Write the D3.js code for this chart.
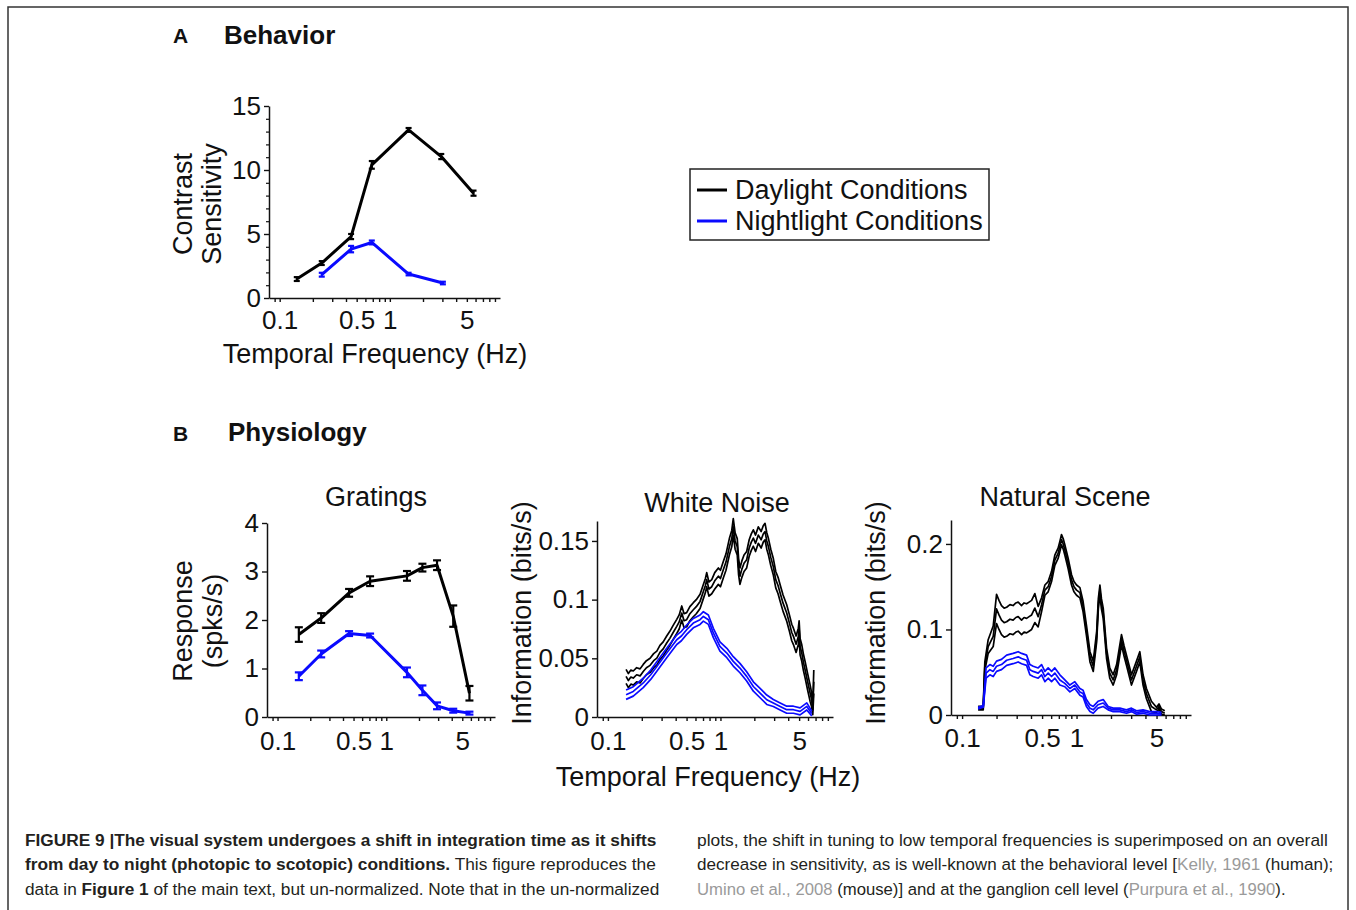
<!DOCTYPE html>
<html>
<head>
<meta charset="utf-8">
<script src="https://cdn.jsdelivr.net/npm/d3@7"></script>
<style>
  body { margin: 0; background: #fff; }
  text { font-family: "Liberation Sans", Arial, sans-serif; white-space: pre; }
</style>
</head>
<body>
<svg id="fig" width="1356" height="910"></svg>
<script>
// ---- shared frequency axis ----
const freqDomain = [0.08, 10];
const freqTickValues = [0.1, 0.5, 1, 5];
const freqTickLabels = ["0.1", "0.5", "1", "5"];
const freqMinorTicks = [0.09, 0.2, 0.3, 0.4, 0.6, 0.7, 0.8, 0.9, 2, 3, 4, 6, 7, 8, 9];

// ---- A: behavior (contrast sensitivity) ----
const behaviorDayFreq = [0.143, 0.241, 0.445, 0.686, 1.48, 2.93, 5.75];
const behaviorDay = [1.48, 2.73, 4.8, 10.4, 13.13, 11.05, 8.19];
const behaviorDayErr = [0.15, 0.15, 0.2, 0.3, 0.15, 0.2, 0.2];
const behaviorNightFreq = [0.241, 0.445, 0.686, 1.48, 3.03];
const behaviorNight = [1.82, 3.82, 4.34, 1.87, 1.17];
const behaviorNightErr = [0.15, 0.25, 0.15, 0.1, 0.1];

// ---- B: gratings (response) ----
const gratingFreq = [0.157, 0.252, 0.455, 0.71, 1.55, 2.15, 2.93, 4.13, 5.82];
const gratingDay = [1.70, 2.04, 2.56, 2.80, 2.91, 3.08, 3.13, 2.08, 0.49];
const gratingDayErr = [0.15, 0.1, 0.08, 0.1, 0.1, 0.08, 0.1, 0.22, 0.15];
const gratingNight = [0.84, 1.30, 1.72, 1.68, 0.92, 0.55, 0.23, 0.13, 0.08];
const gratingNightErr = [0.08, 0.07, 0.05, 0.04, 0.1, 0.1, 0.07, 0.04, 0.03];

// ---- B: white noise (information) ----
const wnDayFreq = [0.145,0.152,0.16,0.168,0.18,0.193,0.206,0.22,0.237,0.255,
  0.272,0.29,0.31,0.333,0.355,0.38,0.409,0.43,0.453,0.475,
  0.501,0.535,0.574,0.61,0.659,0.7,0.735,0.755,0.79,0.837,
  0.89,0.958,1.0,1.06,1.12,1.2,1.26,1.3,1.35,1.41,
  1.45,1.49,1.55,1.62,1.71,1.8,1.88,1.96,2.05,2.17,
  2.3,2.4,2.49,2.58,2.67,2.8,2.95,3.1,3.25,3.39,
  3.6,3.88,4.1,4.3,4.45,4.7,4.92,5.0,5.1,5.28,
  5.45,5.65,5.95,6.26,6.45,6.61,6.75];
const wnDay = [0.0346,0.031,0.034,0.0332,0.036,0.035,0.0388,0.042,0.044,0.048,
  0.0502,0.055,0.058,0.063,0.067,0.072,0.0772,0.081,0.0886,0.082,
  0.0829,0.088,0.0914,0.094,0.0985,0.106,0.112,0.117,0.109,0.111,
  0.116,0.12,0.118,0.1255,0.132,0.145,0.152,0.162,0.15,0.145,
  0.128,0.12,0.126,0.131,0.134,0.144,0.149,0.1525,0.148,0.155,
  0.151,0.156,0.158,0.15,0.145,0.136,0.128,0.117,0.112,0.1056,
  0.097,0.0886,0.08,0.072,0.0687,0.062,0.0687,0.075,0.06,0.0545,
  0.047,0.0403,0.03,0.0204,0.015,0.006,0.03];
const wnDaySem = [0.006,0.006,0.006,0.006,0.006,0.006,0.006,0.006,0.006,0.006,
  0.006,0.006,0.006,0.006,0.006,0.006,0.006,0.006,0.006,0.006,
  0.006,0.006,0.006,0.006,0.006,0.006,0.006,0.006,0.006,0.006,
  0.007,0.007,0.007,0.007,0.007,0.007,0.007,0.007,0.007,0.007,
  0.007,0.007,0.007,0.007,0.007,0.007,0.007,0.007,0.007,0.007,
  0.007,0.007,0.007,0.007,0.007,0.007,0.007,0.007,0.007,0.007,
  0.007,0.007,0.007,0.007,0.007,0.007,0.007,0.007,0.007,0.007,
  0.007,0.007,0.007,0.007,0.006,0.004,0.01];
const wnNightFreq = [0.145,0.168,0.206,0.24,0.272,0.333,0.409,0.45,0.501,0.574,
  0.659,0.705,0.781,0.865,0.99,1.14,1.3,1.49,1.71,1.96,
  2.25,2.58,2.95,3.39,3.88,4.45,5.1,5.85,6.48];
const wnNight = [0.019,0.0218,0.029,0.036,0.043,0.0545,0.0658,0.069,0.0744,0.08,
  0.0829,0.0857,0.0829,0.0716,0.0601,0.0545,0.0474,0.0417,0.0346,0.026,
  0.0204,0.0147,0.0119,0.009,0.0062,0.0062,0.0048,0.009,0.003];
const wnNightSem = [0.004,0.004,0.004,0.004,0.004,0.004,0.004,0.004,0.004,0.004,
  0.004,0.004,0.004,0.004,0.004,0.004,0.004,0.004,0.004,0.004,
  0.004,0.004,0.003,0.003,0.003,0.003,0.003,0.003,0.002];

// ---- B: natural scene (information) ----
const nsDayFreq = [0.138,0.153,0.158,0.169,0.187,0.2,0.21,0.221,0.233,0.245,
  0.262,0.279,0.295,0.309,0.331,0.348,0.366,0.385,0.405,0.432,
  0.462,0.495,0.529,0.565,0.605,0.646,0.69,0.715,0.739,0.765,
  0.79,0.845,0.904,0.95,1.0,1.07,1.14,1.22,1.31,1.40,
  1.50,1.55,1.6,1.65,1.71,1.83,1.95,2.09,2.24,2.35,
  2.47,2.6,2.73,3.02,3.34,3.57,3.81,4.08,4.51,4.99,
  5.25,5.52,5.9];
const nsDay = [0.008,0.008,0.057,0.08,0.092,0.124,0.117,0.111,0.108,0.109,
  0.112,0.111,0.114,0.115,0.111,0.114,0.113,0.115,0.117,0.125,
  0.115,0.129,0.146,0.150,0.162,0.181,0.189,0.197,0.205,0.2,
  0.193,0.177,0.158,0.15,0.146,0.143,0.127,0.099,0.068,0.057,
  0.092,0.13,0.146,0.13,0.119,0.072,0.049,0.041,0.053,0.07,
  0.088,0.075,0.064,0.041,0.057,0.068,0.041,0.025,0.01,0.006,
  0.01,0.004,0.002];
const nsDaySem = [0.002,0.002,0.005,0.008,0.012,0.017,0.017,0.017,0.017,0.017,
  0.017,0.017,0.017,0.017,0.017,0.017,0.017,0.017,0.017,0.017,
  0.012,0.008,0.006,0.006,0.006,0.006,0.006,0.006,0.006,0.006,
  0.006,0.006,0.006,0.006,0.006,0.006,0.006,0.006,0.006,0.006,
  0.006,0.006,0.006,0.006,0.006,0.006,0.006,0.006,0.006,0.006,
  0.006,0.006,0.006,0.006,0.006,0.006,0.006,0.006,0.006,0.003,
  0.003,0.003,0.003];
const nsNightFreq = [0.138,0.153,0.162,0.175,0.187,0.2,0.221,0.245,0.279,0.309,
  0.331,0.366,0.391,0.418,0.462,0.495,0.529,0.565,0.605,0.646,
  0.715,0.79,0.874,0.966,1.07,1.14,1.22,1.31,1.40,1.54,
  1.71,1.89,2.09,2.39,2.73,3.02,3.34,3.81,4.37,4.99,5.52];
const nsNight = [0.008,0.01,0.049,0.053,0.051,0.057,0.059,0.064,0.066,0.068,
  0.066,0.064,0.053,0.051,0.049,0.053,0.045,0.049,0.045,0.049,
  0.041,0.037,0.031,0.035,0.027,0.025,0.014,0.008,0.006,0.012,
  0.014,0.008,0.006,0.006,0.004,0.006,0.003,0.004,0.002,0.002,0.001];
const nsNightSem = [0.001,0.001,0.006,0.006,0.006,0.006,0.006,0.006,0.006,0.006,
  0.006,0.006,0.006,0.006,0.006,0.006,0.006,0.006,0.006,0.006,
  0.006,0.004,0.004,0.004,0.004,0.004,0.004,0.004,0.004,0.004,
  0.004,0.002,0.002,0.002,0.002,0.002,0.002,0.002,0.002,0.002,0.002];

// ---- legend and caption text ----
const legendLabels = ["Daylight Conditions", "Nightlight Conditions"];
const dayColor = "#000000";
const nightColor = "#0a0aff";
const captionLeft = [
  [["FIGURE 9 |The visual system undergoes a shift in integration time as it shifts", "b"]],
  [["from day to night (photopic to scotopic) conditions.", "b"], [" This figure reproduces the", "n"]],
  [["data in ", "n"], ["Figure 1", "b"], [" of the main text, but un-normalized. Note that in the un-normalized", "n"]]
];
const captionRight = [
  [["plots, the shift in tuning to low temporal frequencies is superimposed on an overall", "n"]],
  [["decrease in sensitivity, as is well-known at the behavioral level [", "n"], ["Kelly, 1961", "g"], [" (human);", "n"]],
  [["Umino et al., 2008", "g"], [" (mouse)] and at the ganglion cell level (", "n"], ["Purpura et al., 1990", "g"], [").", "n"]]
];

const svg = d3.select("#fig");
const FONT = "'Liberation Sans', Arial, sans-serif";

// page frame
svg.append("rect")
   .attr("x", 8).attr("y", 7)
   .attr("width", 1340).attr("height", 940)
   .attr("fill", "none")
   .attr("stroke", "#333")
   .attr("stroke-width", 1.5);

function panel(cfg) {
  const x = d3.scaleLog().domain(freqDomain).range([cfg.left, cfg.right]);
  const y = d3.scaleLinear().domain(cfg.yDomain).range([cfg.bottom, cfg.top]);
  const g = svg.append("g");

  const gx = g.append("g")
              .attr("transform", "translate(0," + cfg.bottom + ")")
              .call(d3.axisBottom(x)
                      .tickValues(freqMinorTicks.concat(freqTickValues))
                      .tickFormat(d => {
                        const i = freqTickValues.indexOf(d);
                        return i < 0 ? "" : freqTickLabels[i];
                      })
                      .tickSize(4)
                      .tickSizeOuter(0)
                      .tickPadding(cfg.xPad));

  const gy = g.append("g")
              .attr("transform", "translate(" + cfg.left + ",0)")
              .call(d3.axisLeft(y)
                      .tickValues(cfg.yTicks)
                      .tickFormat((d, i) => cfg.yLabels[i])
                      .tickSize(5)
                      .tickSizeOuter(0)
                      .tickPadding(3));

  if (cfg.yMinor) {
    const gm = g.append("g")
                .attr("transform", "translate(" + cfg.left + ",0)")
                .call(d3.axisLeft(y).tickValues(cfg.yMinor).tickFormat("").tickSize(3));
    gm.select(".domain").remove();
    gm.selectAll("line").attr("stroke", "#111").attr("stroke-width", 1.2);
  }

  [gx, gy].forEach(a => {
    a.attr("font-family", FONT).attr("font-size", 26);
    a.select(".domain").attr("stroke", "#111").attr("stroke-width", 1.5);
    a.selectAll(".tick line").attr("stroke", "#111").attr("stroke-width", 1.4);
    a.selectAll("text").attr("fill", "#111");
  });

  return { x, y, g };
}

function errorSeries(p, freq, vals, errs, color, width, cap) {
  const line = d3.line().x((d, i) => p.x(freq[i])).y(d => p.y(d));
  p.g.append("path")
     .datum(vals)
     .attr("d", line)
     .attr("fill", "none")
     .attr("stroke", color)
     .attr("stroke-width", width)
     .attr("stroke-linejoin", "round");
  const bars = p.g.append("g").attr("stroke", color).attr("stroke-width", 2.2);
  vals.forEach((v, i) => {
    const cx = p.x(freq[i]);
    bars.append("line").attr("x1", cx).attr("x2", cx)
        .attr("y1", p.y(v - errs[i])).attr("y2", p.y(v + errs[i]));
    [v - errs[i], v + errs[i]].forEach(e => {
      bars.append("line").attr("x1", cx - cap).attr("x2", cx + cap)
          .attr("y1", p.y(e)).attr("y2", p.y(e));
    });
  });
}

function bandSeries(p, freq, vals, sems, color) {
  [-1, 0, 1].forEach(k => {
    const line = d3.line().x((d, i) => p.x(freq[i])).y((d, i) => p.y(Math.max(0, d + k * sems[i])));
    p.g.append("path")
       .datum(vals)
       .attr("d", line)
       .attr("fill", "none")
       .attr("stroke", color)
       .attr("stroke-width", 1.7)
       .attr("stroke-linejoin", "round");
  });
}

function label(txt, x, y, opts) {
  const o = opts || {};
  const t = svg.append("text")
     .attr("font-family", FONT)
     .attr("font-size", o.size || 27)
     .attr("font-weight", o.bold ? "bold" : "normal")
     .attr("fill", "#111")
     .attr("text-anchor", o.anchor || "middle")
     .text(txt);
  if (o.rotate) {
    t.attr("transform", "translate(" + x + "," + y + ") rotate(-90)").attr("dy", "0.35em");
  } else {
    t.attr("x", x).attr("y", y);
  }
  return t;
}

// ---------- A: Behavior ----------
label("A", 173, 43, { size: 21, bold: true, anchor: "start" });
label("Behavior", 224, 44, { size: 26, bold: true, anchor: "start" });

const pA = panel({
  left: 269, right: 500, top: 106, bottom: 298, xPad: 9,
  yDomain: [0, 15], yTicks: [0, 5, 10, 15], yLabels: ["0", "5", "10", "15"],
  yMinor: [1, 2, 3, 4, 6, 7, 8, 9, 11, 12, 13, 14]
});
errorSeries(pA, behaviorDayFreq, behaviorDay, behaviorDayErr, dayColor, 3, 3);
errorSeries(pA, behaviorNightFreq, behaviorNight, behaviorNightErr, nightColor, 3, 3);
label("Contrast", 183, 204, { rotate: true });
label("Sensitivity", 212, 204, { rotate: true });
label("Temporal Frequency (Hz)", 375, 363);

// legend
svg.append("rect")
   .attr("x", 690).attr("y", 169).attr("width", 299).attr("height", 71)
   .attr("fill", "#fff").attr("stroke", "#222").attr("stroke-width", 1.5);
legendLabels.forEach((name, i) => {
  const ly = 190 + i * 31;
  svg.append("line")
     .attr("x1", 697).attr("x2", 727).attr("y1", ly).attr("y2", ly)
     .attr("stroke", i === 0 ? dayColor : nightColor).attr("stroke-width", 3);
  label(name, 735, ly + 9, { anchor: "start" });
});

// ---------- B: Physiology ----------
label("B", 173, 441, { size: 21, bold: true, anchor: "start" });
label("Physiology", 228, 441, { size: 26, bold: true, anchor: "start" });

const pG = panel({
  left: 267, right: 495, top: 523, bottom: 717, xPad: 11,
  yDomain: [0, 4], yTicks: [0, 1, 2, 3, 4], yLabels: ["0", "1", "2", "3", "4"]
});
errorSeries(pG, gratingFreq, gratingDay, gratingDayErr, dayColor, 3, 4);
errorSeries(pG, gratingFreq, gratingNight, gratingNightErr, nightColor, 3, 4);
label("Gratings", 376, 506);
label("Response", 183, 621, { rotate: true });
label("(spks/s)", 213, 621, { rotate: true });

const pW = panel({
  left: 597, right: 833, top: 521, bottom: 717, xPad: 11,
  yDomain: [0, 0.167], yTicks: [0, 0.05, 0.1, 0.15], yLabels: ["0", "0.05", "0.1", "0.15"]
});
bandSeries(pW, wnDayFreq, wnDay, wnDaySem, dayColor);
bandSeries(pW, wnNightFreq, wnNight, wnNightSem, nightColor);
label("White Noise", 717, 512);
label("Information (bits/s)", 522, 613, { rotate: true });
label("Temporal Frequency (Hz)", 708, 786);

const pN = panel({
  left: 951, right: 1191, top: 520, bottom: 715, xPad: 10,
  yDomain: [0, 0.228], yTicks: [0, 0.1, 0.2], yLabels: ["0", "0.1", "0.2"]
});
bandSeries(pN, nsDayFreq, nsDay, nsDaySem, dayColor);
bandSeries(pN, nsNightFreq, nsNight, nsNightSem, nightColor);
label("Natural Scene", 1065, 506);
label("Information (bits/s)", 876, 613, { rotate: true });

// ---------- caption ----------
function captionLine(parts, x0, x1, baseline) {
  const t = svg.append("text")
               .attr("y", baseline)
               .attr("font-family", "'Liberation Sans', Arial, sans-serif")
               .attr("font-size", 17);
  parts.forEach(p => {
    t.append("tspan")
     .text(p[0])
     .attr("font-weight", p[1] === "b" ? "bold" : "normal")
     .attr("fill", p[1] === "g" ? "#9a9a9a" : "#231f20");
  });
  const w = t.node().getComputedTextLength();
  t.attr("transform", "translate(" + x0 + ",0) scale(" + ((x1 - x0) / w) + ",1)");
}
const leftEnds = [657, 656, 660];
const rightEnds = [1328, 1334, 1286];
captionLeft.forEach((parts, i) => captionLine(parts, 25, leftEnds[i], 846 + i * 24.5));
captionRight.forEach((parts, i) => captionLine(parts, 697, rightEnds[i], 846 + i * 24.5));
</script>
</body>
</html>
